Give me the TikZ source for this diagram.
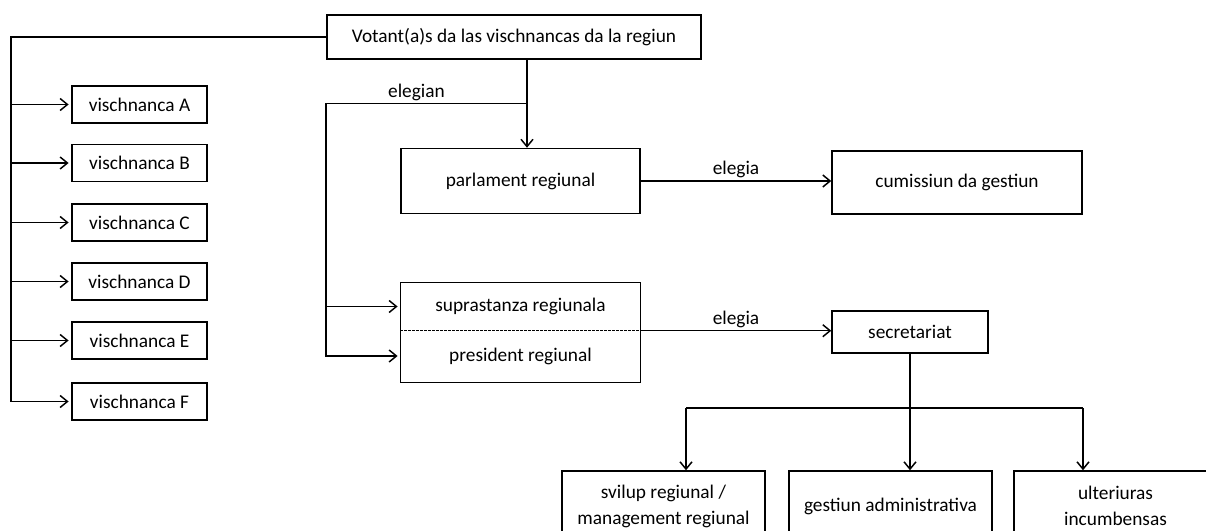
\documentclass[tikz,border=0pt]{standalone}
\usepackage{fontspec}
\setmainfont{Carlito}
\usepackage{tikz}
\usetikzlibrary{arrows.meta,calc}
\tikzstyle{box}=[draw,rectangle,inner sep=0pt,align=center,font=\fontsize{14.5}{19.5}\selectfont]
\tikzstyle{lbl}=[inner sep=1.5pt,font=\fontsize{14.5}{17}\selectfont]

\begin{document}
\begin{tikzpicture}[x=0.75pt,y=-0.75pt,line width=1.1pt,>={Straight Barb[length=5.5pt,width=9pt]}]
    \useasboundingbox (0,0) rectangle (1206,531);
    % top
    \node [box,minimum width=280.5pt,minimum height=33pt] (votant) at (514,37) {Votant(a)s da las vischnancas da la regiun};
    % vischnancas
    \foreach \n/\y in {A/104.5,B/163,C/222.5,D/281.5,E/340.5,F/401.5}
      \node [box,minimum width=101.25pt,minimum height=27.75pt] (v\n) at (139.5,\y) {vischnanca \n};
    \coordinate (lft) at (11,37);
    \draw (votant.west) -- (lft) -- (lft |- vF.west);
    \foreach \n in {A,B,C,D,E,F}
      \draw [->,shorten >=2pt] (lft |- v\n.west) -- (v\n.west);
    % parlament
    \node [box,minimum width=179.25pt,minimum height=48.75pt] (parl) at (520.5,181) {parlament regiunal};
    \node [box,minimum width=187.5pt,minimum height=47.25pt] (cumis) at (957,182.5) {cumissiun da gestiun};
    \coordinate (vsplit) at (527,103.5);
    \coordinate (elbow) at (326,103.5);
    \draw [->] (votant.south -| vsplit) -- (parl.north -| vsplit);
    \draw (vsplit) -- node [lbl,above,pos=0.55] {elegian} (elbow);
    \draw [->] (parl.east) -- node [lbl,above] {elegia} (parl.east -| cumis.west);
    % suprastanza
    \node [box,draw=none,minimum width=179.25pt,minimum height=35.25pt] (supra) at (520.5,306.5) {suprastanza regiunala};
    \node [box,draw=none,minimum width=179.25pt,minimum height=39pt] (pres) at (520.5,356) {president regiunal};
    \draw (supra.north west) rectangle (pres.south east);
    \draw [dashed,line width=0.6pt,dash pattern=on 2pt off 1pt] (supra.south west) -- (supra.south east);
    \draw [->,shorten >=2pt] (elbow) |- (pres.west);
    \draw [->,shorten >=2pt] (elbow |- supra.west) -- (supra.west);
    \node [box,minimum width=117pt,minimum height=31.5pt] (sec) at (910,332) {secretariat};
    \draw [->] (supra.south east) -- node [lbl,above] {elegia} (supra.south east -| sec.west);
    % secretariat
    \node [box,minimum width=152.25pt,minimum height=52.5pt] (svil) at (663.5,506) {svilup regiunal /\\management regiunal};
    \node [box,minimum width=152.25pt,minimum height=52.5pt] (gest) at (890.5,506) {gestiun administrativa};
    \node [box,minimum width=152.25pt,minimum height=52.5pt] (ult) at (1115.5,506) {ulteriuras\\incumbensas};
    \coordinate (bus) at (910,408);
    \coordinate (busL) at (686,408);
    \coordinate (busR) at (1083,408);
    \draw (sec.south -| bus) -- (bus);
    \draw (busL) -- (busR);
    \draw [->] (busL) -- (busL |- svil.north);
    \draw [->] (bus) -- (bus |- gest.north);
    \draw [->] (busR) -- (busR |- ult.north);
  \end{tikzpicture}
\end{document}
